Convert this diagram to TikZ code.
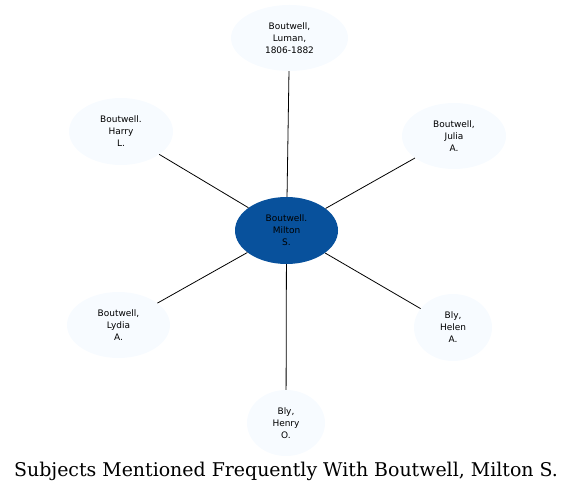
\documentclass[tikz,border=0pt]{standalone}
\usepackage{fontspec}
\setsansfont{DejaVu Sans}
\newfontfamily\titlefont{DejaVu Serif}
\usetikzlibrary{shapes.geometric}
\definecolor{sbMain}{HTML}{08519C}
\definecolor{sbLight}{HTML}{F7FBFF}
\tikzset{
  subj/.style={
    ellipse, inner sep=0pt, fill=sbLight, align=center,
    font=\sffamily\fontsize{9}{12}\selectfont
  },
  mainsubj/.style={subj, fill=sbMain},
  link/.style={black, line width=0.8pt},
  caption/.style={font=\titlefont\fontsize{19}{22}\selectfont}
}

\begin{document}
\begin{tikzpicture}[x=1bp, y=-1bp]
  \useasboundingbox (0,0) rectangle (573,492);
  \node[mainsubj, minimum width=103bp, minimum height=67bp] (milton) at (286.5,230.5) {Boutwell.\\Milton\\S.};
  \node[subj, minimum width=117bp, minimum height=66bp] (luman) at (289.5,38) {Boutwell,\\Luman,\\1806-1882};
  \node[subj, minimum width=104bp, minimum height=67bp] (harry) at (121,131.5) {Boutwell.\\Harry\\L.};
  \node[subj, minimum width=104bp, minimum height=66bp] (julia) at (454,136) {Boutwell,\\Julia\\A.};
  \node[subj, minimum width=103bp, minimum height=66bp] (lydia) at (118.5,325) {Boutwell,\\Lydia\\A.};
  \node[subj, minimum width=78bp, minimum height=67bp] (helen) at (453,327.5) {Bly,\\Helen\\A.};
  \node[subj, minimum width=78bp, minimum height=66bp] (henry) at (286,423) {Bly,\\Henry\\O.};
  \foreach \n in {luman,harry,julia,lydia,helen,henry}
    \draw[link] (milton) -- (\n);
  \node[caption] (title) at (286,471) {Subjects Mentioned Frequently With Boutwell, Milton S.};
\end{tikzpicture}
\end{document}
